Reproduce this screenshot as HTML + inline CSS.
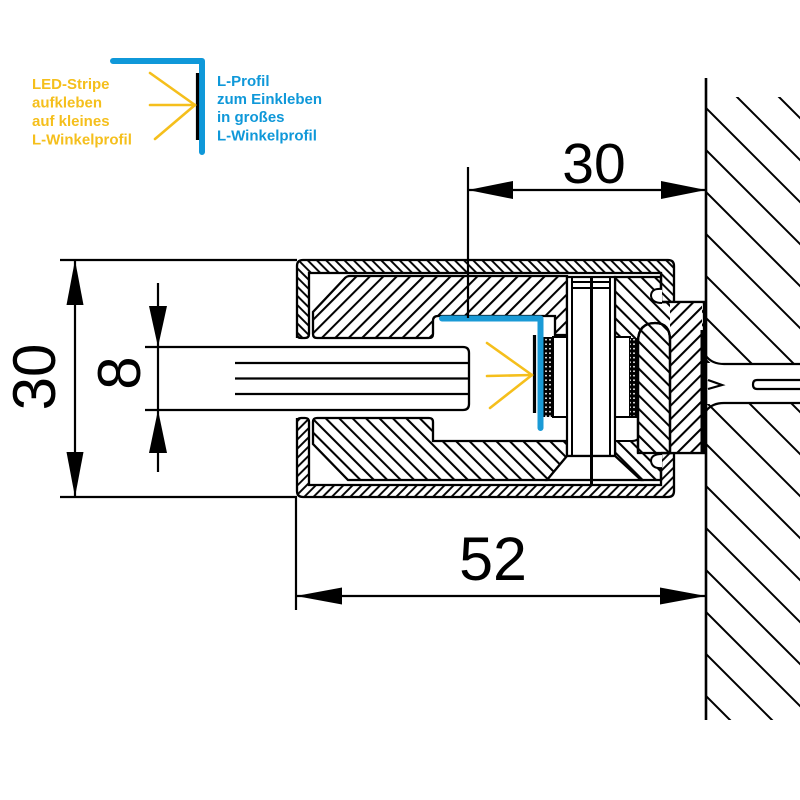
<!DOCTYPE html>
<html><head><meta charset="utf-8"><style>html,body{margin:0;padding:0;background:#fff}svg{display:block}</style></head>
<body>
<svg xmlns="http://www.w3.org/2000/svg" width="800" height="800" viewBox="0 0 800 800">
<defs>
<pattern id="sF" patternUnits="userSpaceOnUse" width="6.5" height="6.5" patternTransform="rotate(45)"><line x1="1" y1="-1" x2="1" y2="8" stroke="#000" stroke-width="1.9"/></pattern>
<pattern id="sB" patternUnits="userSpaceOnUse" width="6.5" height="6.5" patternTransform="rotate(-45)"><line x1="1" y1="-1" x2="1" y2="8" stroke="#000" stroke-width="1.9"/></pattern>
<pattern id="iF" patternUnits="userSpaceOnUse" width="9.5" height="9.5" patternTransform="rotate(45)"><line x1="1" y1="-1" x2="1" y2="11" stroke="#000" stroke-width="2.1"/></pattern>
<pattern id="iB" patternUnits="userSpaceOnUse" width="9.5" height="9.5" patternTransform="rotate(-45)"><line x1="1" y1="-1" x2="1" y2="11" stroke="#000" stroke-width="2.1"/></pattern>
<pattern id="dots" patternUnits="userSpaceOnUse" width="4" height="4.5"><rect width="4" height="4.5" fill="#000"/><circle cx="2" cy="2.2" r="0.9" fill="#fff"/></pattern>
<clipPath id="wc"><rect x="706" y="97" width="94" height="266"/><rect x="706" y="404" width="94" height="316"/></clipPath>
</defs>
<rect width="800" height="800" fill="#fff"/>

<!-- Labels -->
<g font-family="Liberation Sans, Arial, sans-serif" font-weight="bold" font-size="15">
<g fill="#f5bf1c">
<text x="32" y="89">LED-Stripe</text>
<text x="32" y="107.5">aufkleben</text>
<text x="32" y="126">auf kleines</text>
<text x="32" y="144.5">L-Winkelprofil</text>
</g>
<g fill="#0f98d9">
<text x="217" y="86">L-Profil</text>
<text x="217" y="104">zum Einkleben</text>
<text x="217" y="122">in großes</text>
<text x="217" y="140.5">L-Winkelprofil</text>
</g>
</g>
<path d="M113,61 H202 V152" fill="none" stroke="#0f98d9" stroke-width="6" stroke-linecap="round" stroke-linejoin="round"/>
<line x1="197.5" y1="73" x2="197.5" y2="140" stroke="#000" stroke-width="3.2"/>
<g stroke="#f5bf1c" stroke-width="2.6" stroke-linecap="round">
<line x1="150" y1="73" x2="195" y2="105"/>
<line x1="150" y1="105" x2="195" y2="105"/>
<line x1="155" y1="139" x2="195" y2="105"/>
</g>

<!-- Wall -->
<g clip-path="url(#wc)" stroke="#000" stroke-width="2">
<line x1="706" y1="24" x2="806" y2="124"/>
<line x1="706" y1="66" x2="806" y2="166"/>
<line x1="706" y1="108" x2="806" y2="208"/>
<line x1="706" y1="150" x2="806" y2="250"/>
<line x1="706" y1="192" x2="806" y2="292"/>
<line x1="706" y1="234" x2="806" y2="334"/>
<line x1="706" y1="276" x2="806" y2="376"/>
<line x1="706" y1="318" x2="806" y2="418"/>
<line x1="706" y1="360" x2="806" y2="460"/>
<line x1="706" y1="402" x2="806" y2="502"/>
<line x1="706" y1="444" x2="806" y2="544"/>
<line x1="706" y1="486" x2="806" y2="586"/>
<line x1="706" y1="528" x2="806" y2="628"/>
<line x1="706" y1="570" x2="806" y2="670"/>
<line x1="706" y1="612" x2="806" y2="712"/>
<line x1="706" y1="654" x2="806" y2="754"/>
<line x1="706" y1="696" x2="806" y2="796"/>
<line x1="706" y1="-18" x2="806" y2="82"/>
</g>
<g stroke="#000" stroke-width="2.2" fill="none">
<path d="M706,356 Q712,364 724,364 H800"/>
<path d="M706,411 Q712,403 724,403 H800"/>
<path d="M800,380 H757 Q753,380 753,384.5 Q753,389 757,389 H800"/>
<path d="M708,380 L722,385 L708,389"/>
</g>
<line x1="706" y1="78" x2="706" y2="720" stroke="#000" stroke-width="2.6"/>

<!-- Shell -->
<path d="M297,338 V266 Q297,260 303,260 H668 Q674,260 674,266 V302 H661 V273 H309 V334 Q309,338 305,338 H301 Q297,338 297,334 Z" fill="url(#sB)" stroke="#000" stroke-width="2.3"/>
<path d="M297,418 V491 Q297,497 303,497 H668 Q674,497 674,491 V453 H661 V485 H309 V422 Q309,418 305,418 H301 Q297,418 297,422 Z" fill="url(#sF)" stroke="#000" stroke-width="2.3"/>

<!-- Upper insert -->
<path d="M350,276 H567 V335 H555 V316 H438 Q433,316 433,321 V334 Q433,338 429,338 H317 Q313,338 313,334 V312 L345,278 Q347,276 350,276 Z" fill="url(#iF)" stroke="#000" stroke-width="2.3"/>
<!-- Lower insert -->
<path d="M317,418 H429 Q433,418 433,422 V441 H567 V456 L547,480 H348 L313,444 V422 Q313,418 317,418 Z" fill="url(#iB)" stroke="#000" stroke-width="2.3"/>

<!-- Right block -->
<path d="M615,277 H661 V302 H704 V453 H661 V480 H641 L615,456 Z" fill="url(#iB)" stroke="#000" stroke-width="2.3"/>
<rect x="615" y="337" width="15" height="80" fill="#fff" stroke="#000" stroke-width="2"/>
<rect x="630" y="338" width="8" height="78" fill="url(#dots)"/>
<path d="M615,417 H640 V433 Q640,441 632,441 H615 Z" fill="#fff" stroke="#000" stroke-width="2"/>
<!-- Plate -->
<rect x="670" y="303" width="32" height="150" fill="#fff"/>
<rect x="670" y="303" width="32" height="150" fill="url(#iF)"/>
<path d="M638,453 V342 Q638,323 655,323 Q670,323 670,340 V453" fill="#fff" stroke="#000" stroke-width="2.3"/>
<path d="M638,453 V342 Q638,323 655,323 Q670,323 670,340 V453 Z" fill="url(#iB)" stroke="#000" stroke-width="2.3"/>
<line x1="702" y1="330" x2="702" y2="453" stroke="#000" stroke-width="3"/>
<line x1="661" y1="302" x2="706" y2="302" stroke="#000" stroke-width="2.3"/>
<line x1="661" y1="453" x2="706" y2="453" stroke="#000" stroke-width="2.3"/>
<!-- clips -->
<g fill="#fff" stroke="#000" stroke-width="2">
<path d="M662,289 Q651,288 651,296 Q652,303 662,303"/>
<path d="M662,454 Q651,454 651,461 Q652,469 662,468"/>
</g>

<!-- Cylinder -->
<rect x="567" y="277" width="48" height="179" fill="#fff" stroke="#000" stroke-width="2.2"/>
<g stroke="#000" stroke-width="2">
<line x1="572" y1="277" x2="572" y2="456"/>
<line x1="610" y1="277" x2="610" y2="456"/>
<line x1="572" y1="282" x2="610" y2="282"/>
<line x1="572" y1="288" x2="610" y2="288"/>
</g>
<path d="M567,456 H615 L641,480 H547 Z" fill="#fff" stroke="#000" stroke-width="2.2"/>
<line x1="591.5" y1="277" x2="591.5" y2="484" stroke="#000" stroke-width="3"/>

<!-- cavity content -->
<rect x="553" y="337" width="14" height="80" fill="#fff" stroke="#000" stroke-width="2"/>
<rect x="543" y="337" width="10" height="80" fill="url(#dots)"/>
<path d="M442,318.5 H540.5 V428" fill="none" stroke="#1a9ad6" stroke-width="6" stroke-linecap="round" stroke-linejoin="round"/>
<line x1="534.5" y1="335" x2="534.5" y2="413" stroke="#000" stroke-width="3.2"/>
<g stroke="#f5bf1c" stroke-width="2.6" stroke-linecap="round">
<line x1="487" y1="343" x2="532" y2="375"/>
<line x1="487" y1="376" x2="532" y2="375"/>
<line x1="490" y1="408" x2="532" y2="375"/>
</g>

<!-- Glass -->
<g stroke="#000" stroke-width="2.3" fill="none">
<path d="M145,347 H463 Q469,347 469,353 V404 Q469,410 463,410 H145"/>
<line x1="235" y1="363" x2="469" y2="363"/>
<line x1="235" y1="378.5" x2="469" y2="378.5"/>
<line x1="235" y1="394" x2="469" y2="394"/>
</g>

<!-- Dimensions -->
<g stroke="#000" stroke-width="2.2">
<line x1="60" y1="260" x2="297" y2="260"/>
<line x1="60" y1="497" x2="297" y2="497"/>
<line x1="75" y1="260" x2="75" y2="497"/>
<line x1="158" y1="283" x2="158" y2="472"/>
<line x1="468" y1="167" x2="468" y2="318"/>
<line x1="468" y1="190" x2="706" y2="190"/>
<line x1="296" y1="497" x2="296" y2="610"/>
<line x1="296" y1="596" x2="706" y2="596"/>
</g>
<g fill="#000">
<polygon points="75,260 66.5,305 83.5,305"/>
<polygon points="75,497 66.5,452 83.5,452"/>
<polygon points="158,347 149,306 167,306"/>
<polygon points="158,410 149,453 167,453"/>
<polygon points="468,190 513,181 513,199"/>
<polygon points="706,190 661,181 661,199"/>
<polygon points="296,596 342,587.5 342,604.5"/>
<polygon points="706,596 660,587.5 660,604.5"/>
</g>
<g font-family="Liberation Sans, Arial, sans-serif" fill="#000" text-anchor="middle">
<text x="594" y="183" font-size="57">30</text>
<text x="493" y="580" font-size="61">52</text>
<text transform="translate(55,377) rotate(-90)" font-size="60">30</text>
<text transform="translate(140,373) rotate(-90)" font-size="60">8</text>
</g>
</svg>
</body></html>
